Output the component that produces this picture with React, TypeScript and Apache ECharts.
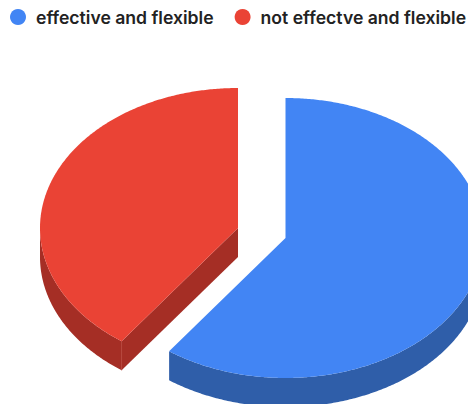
import React, { useEffect, useRef } from "react";
import * as echarts from "echarts";

const categories = ["effective and flexible", "not effectve and flexible"];
const values = [60, 40];
const topColors = ["#4285f4", "#ea4335"];
const sideColors = ["#2f5ea9", "#a52e25"];
const centers = [
  [285.5, 238],
  [238, 228],
];
const RX = 198;
const RY = 140;
const DEPTH = 29;

const total = values.reduce((a, b) => a + b, 0);

function pt(cx: number, cy: number, deg: number, dy = 0) {
  const r = (deg * Math.PI) / 180;
  return [cx + RX * Math.sin(r), cy - RY * Math.cos(r) + dy];
}

function arc(cx: number, cy: number, a0: number, a1: number, dy = 0) {
  const pts: number[][] = [];
  const n = Math.max(2, Math.ceil(Math.abs(a1 - a0) * 2));
  for (let i = 0; i <= n; i++) pts.push(pt(cx, cy, a0 + ((a1 - a0) * i) / n, dy));
  return pts;
}

function renderSlice(idx: number, api: any) {
  const v = api.value(0);
  const start = (values.slice(0, idx).reduce((a, b) => a + b, 0) / total) * 360;
  const end = start + (v / total) * 360;
  const [cx, cy] = centers[idx];
  const children: any[] = [];
  const sideStyle = { fill: sideColors[idx] };
  // outer wall: the part of the rim facing the viewer (90deg to 270deg)
  const w0 = Math.max(start, 90);
  const w1 = Math.min(end, 270);
  if (w1 > w0) {
    children.push({
      type: "polygon",
      shape: { points: [...arc(cx, cy, w0, w1), ...arc(cx, cy, w1, w0, DEPTH)] },
      style: sideStyle,
    });
  }
  // cut wall on the start edge, visible only when it faces the viewer
  if (start > 90 && start < 270) {
    const p = pt(cx, cy, start);
    children.push({
      type: "polygon",
      shape: { points: [[cx, cy], p, [p[0], p[1] + DEPTH], [cx, cy + DEPTH]] },
      style: sideStyle,
    });
    children.push({
      type: "line",
      shape: { x1: p[0], y1: p[1], x2: p[0], y2: p[1] + DEPTH },
      style: { stroke: "#b5453b", lineWidth: 1 },
    });
  }
  // top face
  children.push({
    type: "polygon",
    shape: { points: [[cx, cy], ...arc(cx, cy, start, end)] },
    style: { fill: topColors[idx] },
  });
  return { type: "group", children };
}

const App = () => {
  const ref = useRef<HTMLDivElement>(null);
  useEffect(() => {
    const chart = echarts.init(ref.current!, null, { renderer: "svg" });
    chart.setOption({
      animation: false,
      backgroundColor: "#ffffff",
      legend: {
        data: categories,
        icon: "circle",
        left: 10,
        top: 8,
        padding: 0,
        itemWidth: 16,
        itemHeight: 16,
        itemGap: 21,
        selectedMode: false,
        textStyle: {
          fontFamily: "Inter",
          fontSize: 17.6,
          fontWeight: 600,
          color: "#222222",
          padding: [0, 0, 0, 5],
        },
      },
      series: categories.map((name, i) => ({
        type: "custom",
        name,
        coordinateSystem: "none",
        itemStyle: { color: topColors[i] },
        data: [[values[i]]],
        renderItem: (_p: any, api: any) => renderSlice(i, api),
      })),
    });
    return () => chart.dispose();
  }, []);
  return (
    <div
      ref={ref}
      style={{ position: "fixed", left: 0, top: 0, width: 468, height: 404 }}
    />
  );
};

export default App;
